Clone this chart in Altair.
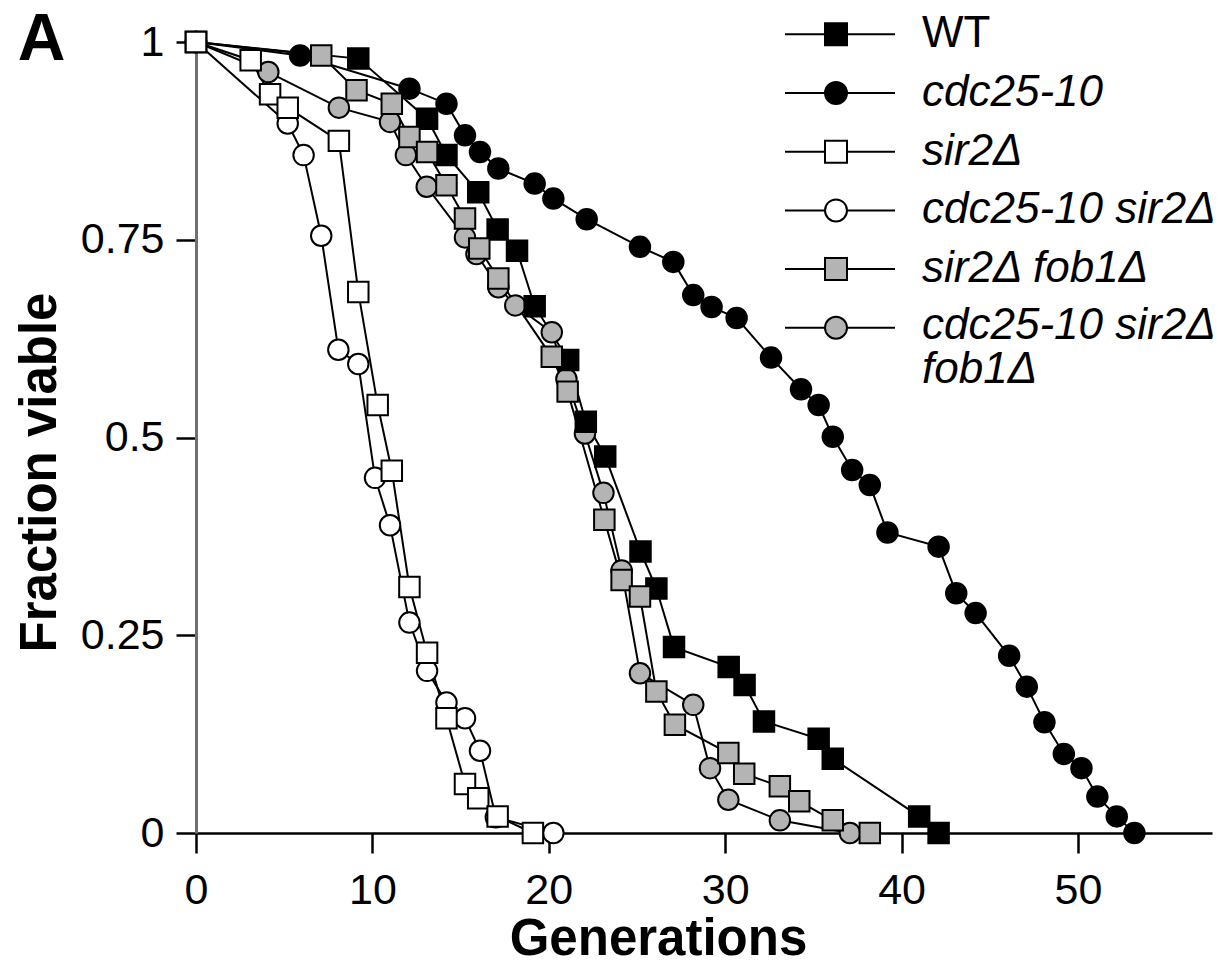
import altair as alt
import pandas as pd

# ---------------- data ----------------
SERIES = ["WT", "cdc25-10", "sir2Δ", "cdc25-10 sir2Δ", "sir2Δ fob1Δ", "cdc25-10 sir2Δ fob1Δ"]
SHAPES = ["square", "circle", "square", "circle", "square", "circle"]
FILLS = ["#000000", "#000000", "#ffffff", "#ffffff", "#b4b4b4", "#b4b4b4"]

wt_x = [0, 9.2, 13.1, 14.2, 16.0, 17.1, 18.2, 19.2, 21.1, 22.1, 23.2, 25.2, 26.1, 27.1,
        30.2, 31.1, 32.2, 35.3, 36.1, 41.0, 42.1]
wt_y = [1, 0.979, 0.903, 0.857, 0.810, 0.763, 0.736, 0.666, 0.598, 0.520, 0.476, 0.356,
        0.309, 0.235, 0.210, 0.187, 0.141, 0.119, 0.094, 0.021, 0.0]

cdc_x = [0, 5.9, 12.1, 14.2, 15.25, 16.1, 17.14, 19.2, 20.26, 22.15, 25.17, 27.06, 28.19,
         29.23, 30.65, 32.6, 34.3, 35.3, 36.1, 37.2, 38.2, 39.2, 42.1, 43.1, 44.2, 46.1,
         47.1, 48.1, 49.2, 50.2, 51.1, 52.2, 53.2]
cdc_y = [1, 0.983, 0.941, 0.922, 0.882, 0.861, 0.840, 0.821, 0.802, 0.776, 0.741, 0.722,
         0.680, 0.665, 0.651, 0.601, 0.561, 0.541, 0.501, 0.459, 0.440, 0.380, 0.362,
         0.303, 0.278, 0.224, 0.185, 0.140, 0.100, 0.082, 0.046, 0.021, 0.0]

sir2_x = [0, 3.1, 4.2, 5.2, 8.1, 9.2, 10.3, 11.1, 12.1, 13.1, 14.2, 15.25, 16.0, 17.1, 19.1]
sir2_y = [1, 0.977, 0.934, 0.917, 0.875, 0.684, 0.541, 0.458, 0.311, 0.228, 0.145, 0.062,
          0.044, 0.021, 0.0]

cdc_sir2_x = [0, 5.2, 6.1, 7.1, 8.07, 9.2, 10.15, 11.0, 12.1, 13.1, 14.2, 15.25, 16.1, 17.0, 20.26]
cdc_sir2_y = [1, 0.897, 0.857, 0.755, 0.611, 0.593, 0.449, 0.389, 0.266, 0.205, 0.165, 0.145,
              0.104, 0.02, 0.0]

sir2_fob1_x = [0, 7.1, 9.1, 11.1, 12.1, 13.1, 14.2, 15.25, 16.06, 17.14, 20.17, 21.07, 23.15,
               24.13, 25.17, 26.1, 27.15, 30.18, 31.08, 33.1, 34.2, 36.1, 38.2]
sir2_fob1_y = [1, 0.983, 0.939, 0.922, 0.880, 0.861, 0.819, 0.777, 0.739, 0.701, 0.602, 0.558,
               0.396, 0.320, 0.299, 0.179, 0.137, 0.101, 0.075, 0.059, 0.040, 0.016, 0.0]

cdc_sir2_fob1_x = [0, 4.1, 8.1, 11.0, 11.9, 13.08, 15.25, 15.9, 17.14, 18.1, 20.17, 21.0, 22.05,
                   23.1, 24.13, 25.17, 28.19, 29.14, 30.18, 33.1, 37.07]
cdc_sir2_fob1_y = [1, 0.962, 0.917, 0.899, 0.857, 0.817, 0.753, 0.732, 0.690, 0.667, 0.633,
                   0.574, 0.505, 0.430, 0.332, 0.202, 0.162, 0.082, 0.042, 0.016, 0.0]

X_TICKS = [0, 10, 20, 30, 40, 50]
Y_TICKS = [0, 0.25, 0.5, 0.75, 1]
LEGEND_LINES = ["WT", "cdc25-10", "sir2Δ", "cdc25-10 sir2Δ", "sir2Δ fob1Δ",
                "cdc25-10 sir2Δ\nfob1Δ"]

# ---------------- layout ----------------
PLOT_W, PLOT_H = 1016, 791
PAD = {"left": 196, "top": 42, "right": 6, "bottom": 131}
X_MAX = 57.6
FONT = "Liberation Sans"

series_data = {
    "WT": (wt_x, wt_y),
    "cdc25-10": (cdc_x, cdc_y),
    "sir2Δ": (sir2_x, sir2_y),
    "cdc25-10 sir2Δ": (cdc_sir2_x, cdc_sir2_y),
    "sir2Δ fob1Δ": (sir2_fob1_x, sir2_fob1_y),
    "cdc25-10 sir2Δ fob1Δ": (cdc_sir2_fob1_x, cdc_sir2_fob1_y),
}
# drawing order, bottom to top
draw_order = ["cdc25-10", "cdc25-10 sir2Δ fob1Δ", "WT", "sir2Δ fob1Δ", "cdc25-10 sir2Δ", "sir2Δ"]
rows = []
for k, name in enumerate(draw_order):
    xs, ys = series_data[name]
    for xv, yv in zip(xs, ys):
        rows.append({"series": name, "gen": xv, "frac": yv, "z": k})
df = pd.DataFrame(rows)

x_scale = alt.Scale(domain=[0, X_MAX], nice=False, zero=False)
y_scale = alt.Scale(domain=[0, 1], nice=False)
shape_scale = alt.Scale(domain=SERIES, range=SHAPES)
fill_scale = alt.Scale(domain=SERIES, range=FILLS)

x_axis = alt.Axis(values=X_TICKS, title="Generations", grid=False,
                  domainColor="black", domainWidth=2.5, tickColor="black", tickWidth=2.5,
                  tickSize=20, labelFont=FONT, labelFontSize=43, labelColor="black",
                  labelPadding=16, labelFlush=False, labelOverlap=False,
                  titleFont=FONT, titleFontSize=51, titleFontWeight="bold", titleColor="black",
                  titleX=462, titleY=121, titleAlign="center", titleBaseline="alphabetic")
y_axis = alt.Axis(values=Y_TICKS, format="~g", title="Fraction viable", grid=False,
                  domainColor="#707070", domainWidth=3, tickColor="black", tickWidth=2.5,
                  tickSize=20, labelFont=FONT, labelFontSize=43, labelColor="black",
                  labelPadding=12, labelFlush=False, labelOverlap=False,
                  titleFont=FONT, titleFontSize=51, titleFontWeight="bold", titleColor="black",
                  titleAngle=270, titleX=-141, titleY=430, titleAlign="center",
                  titleBaseline="alphabetic")

base = alt.Chart(df)
lines = base.mark_line(color="black", strokeWidth=2).encode(
    x=alt.X("gen:Q", scale=x_scale, axis=x_axis),
    y=alt.Y("frac:Q", scale=y_scale, axis=y_axis),
    detail="series:N",
)
points = base.mark_point(filled=True, stroke="black", strokeWidth=2, size=420,
                         opacity=1, fillOpacity=1).encode(
    x=alt.X("gen:Q", scale=x_scale),
    y=alt.Y("frac:Q", scale=y_scale),
    shape=alt.Shape("series:N", scale=shape_scale, legend=None),
    fill=alt.Fill("series:N", scale=fill_scale, legend=None),
)

# ---------------- manual legend ----------------
LEG_ROW0 = 34.3 - PAD["top"]   # pixel y of first row, relative to plot top
LEG_STEP = 58.7
leg = pd.DataFrame({
    "series": SERIES,
    "label": LEGEND_LINES,
    "row": list(range(len(SERIES))),
})
leg["ly"] = 1 - (LEG_ROW0 + LEG_STEP * leg["row"]) / PLOT_H
# baseline position for the two-line entry (alphabetic baseline, a bit below centre)
leg["lyb"] = 1 - (LEG_ROW0 + LEG_STEP * leg["row"] + 11) / PLOT_H

leg_rule = alt.Chart(leg).mark_rule(color="black", strokeWidth=2).encode(
    x=alt.value(785 - PAD["left"]), x2=alt.value(895 - PAD["left"]),
    y=alt.Y("ly:Q", scale=y_scale),
)
leg_pts = alt.Chart(leg).mark_point(filled=True, stroke="black", strokeWidth=2, size=484,
                                    opacity=1, fillOpacity=1).encode(
    x=alt.value(836 - PAD["left"]),
    y=alt.Y("ly:Q", scale=y_scale),
    shape=alt.Shape("series:N", scale=shape_scale, legend=None),
    fill=alt.Fill("series:N", scale=fill_scale, legend=None),
)
leg_txt_wt = alt.Chart(leg).transform_filter(alt.datum.row == 0).mark_text(
    align="left", baseline="middle", font=FONT, fontSize=44, color="black").encode(
    x=alt.value(922 - PAD["left"]), y=alt.Y("ly:Q", scale=y_scale), text="label:N")
leg_txt_it = alt.Chart(leg).transform_filter(
    (alt.datum.row > 0) & (alt.datum.row < 5)).mark_text(
    align="left", baseline="middle", font=FONT, fontSize=44, fontStyle="italic",
    color="black").encode(
    x=alt.value(922 - PAD["left"]), y=alt.Y("ly:Q", scale=y_scale), text="label:N")
leg_txt_two = alt.Chart(leg).transform_filter(alt.datum.row == 5).mark_text(
    align="left", baseline="alphabetic", font=FONT, fontSize=44, fontStyle="italic",
    lineBreak="\n", lineHeight=44, color="black").encode(
    x=alt.value(922 - PAD["left"]), y=alt.Y("lyb:Q", scale=y_scale), text="label:N")

panel = alt.Chart(pd.DataFrame({"t": ["A"]})).mark_text(
    align="center", baseline="alphabetic", font=FONT, fontSize=66, fontWeight="bold",
    color="black").encode(x=alt.value(41.5 - PAD["left"]), y=alt.value(60 - PAD["top"]),
                          text="t:N")

chart = alt.layer(lines, points, leg_rule, leg_pts, leg_txt_wt, leg_txt_it, leg_txt_two,
                  panel).properties(
    width=PLOT_W, height=PLOT_H,
    padding=PAD,
    autosize=alt.AutoSizeParams(type="none"),
    background="white",
).configure_view(stroke=None)

chart.save("out.html", embed_options={"renderer": "svg", "actions": False})
